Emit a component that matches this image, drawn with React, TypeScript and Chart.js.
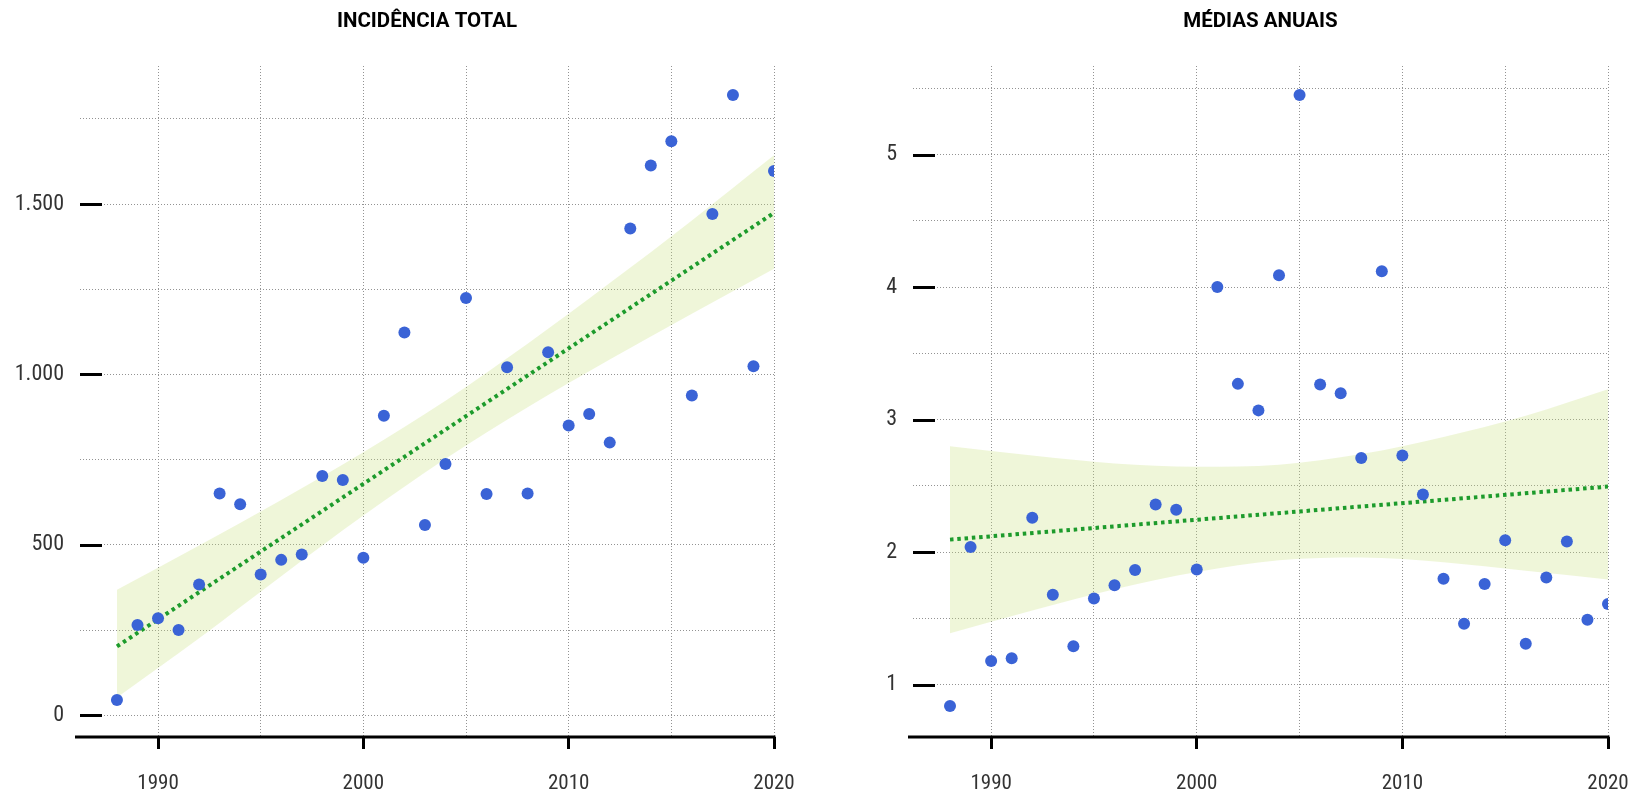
import React, { useEffect, useRef } from 'react';
import { Chart, registerables } from 'chart.js';

Chart.register(...registerables);

// ---------------- data ----------------
const years = [
  1988, 1989, 1990, 1991, 1992, 1993, 1994, 1995, 1996, 1997, 1998,
  1999, 2000, 2001, 2002, 2003, 2004, 2005, 2006, 2007, 2008, 2009,
  2010, 2011, 2012, 2013, 2014, 2015, 2016, 2017, 2018, 2019, 2020,
];

const totalIncidence = [
  45, 265, 285, 250, 384, 651, 619, 413, 456, 472, 702,
  690, 462, 879, 1123, 558, 737, 1224, 649, 1021, 651, 1065,
  850, 884, 800, 1428, 1613, 1684, 938, 1471, 1820, 1024, 1597,
];

const annualMeans = [
  0.84, 2.04, 1.18, 1.2, 2.26, 1.68, 1.29, 1.65, 1.75, 1.865, 2.36,
  2.32, 1.87, 4.0, 3.27, 3.07, 4.09, 5.45, 3.265, 3.2, 2.71, 4.12,
  2.73, 2.436, 1.8, 1.46, 1.76, 2.09, 1.31, 1.81, 2.08, 1.49, 1.61,
];

const trendYears = [1988, 2020];
const totalTrend = [202, 1474];
const meansTrend = [2.095, 2.495];

const bandYears = [1988, 1992, 1996, 2000, 2004, 2008, 2012, 2016, 2020];
const totalBandUpper = [368, 498, 632, 772, 923, 1090, 1268, 1452, 1643];
const totalBandLower = [52, 226, 408, 586, 753, 904, 1044, 1178, 1310];
const meansBandUpper = [2.8, 2.73, 2.67, 2.645, 2.66, 2.74, 2.87, 3.03, 3.23];
const meansBandLower = [1.388, 1.56, 1.72, 1.85, 1.94, 1.96, 1.925, 1.86, 1.795];

const yearGridValues = [1990, 1995, 2000, 2005, 2010, 2015, 2020];
const yearTickValues = [1990, 2000, 2010, 2020];
const yearTickLabels = ['1990', '2000', '2010', '2020'];
const totalGridValues = [0, 250, 500, 750, 1000, 1250, 1500, 1750];
const totalTickValues = [0, 500, 1000, 1500];
const totalTickLabels = ['0', '500', '1.000', '1.500'];
const meansGridValues = [1, 1.5, 2, 2.5, 3, 3.5, 4, 4.5, 5, 5.5];
const meansTickValues = [1, 2, 3, 4, 5];
const meansTickLabels = ['1', '2', '3', '4', '5'];

// ---------------- style ----------------
const FONT = '"Roboto Condensed", "Liberation Sans Narrow", "DejaVu Sans Condensed", "DejaVu Sans", sans-serif';
const TITLE_FONT = 'Roboto, "Liberation Sans", "DejaVu Sans", sans-serif';
const POINT_COLOR = '#3a63d6';
const TREND_COLOR = '#1d9b2c';
const BAND_COLOR = 'rgba(196, 222, 120, 0.28)';
const GRID_COLOR = '#939393';

const lookup = (values: number[], labels: string[], v: number) => {
  const i = values.findIndex((t) => Math.abs(t - v) < 1e-6);
  return i >= 0 ? labels[i] : '';
};

const toXY = (xs: number[], ys: number[]) => xs.map((x, i) => ({ x, y: ys[i] }));

const decorPlugin = (majorY: number[]) => ({
  id: 'axisDecor',
  afterDatasetsDraw(chart: any) {
    const { ctx, chartArea, scales } = chart;
    ctx.save();
    ctx.strokeStyle = '#000';
    ctx.lineWidth = 3;
    ctx.lineCap = 'butt';
    ctx.setLineDash([]);
    ctx.beginPath();
    ctx.moveTo(chartArea.left - 5, chartArea.bottom);
    ctx.lineTo(chartArea.right + 1.5, chartArea.bottom);
    ctx.stroke();
    for (const v of majorY) {
      const py = Math.round(scales.y.getPixelForValue(v)) + 0.5;
      ctx.beginPath();
      ctx.moveTo(chartArea.left, py);
      ctx.lineTo(chartArea.left + 22, py);
      ctx.stroke();
    }
    ctx.restore();
  },
});

interface PanelProps {
  title: string;
  values: number[];
  trend: number[];
  upper: number[];
  lower: number[];
  yMin: number;
  yMax: number;
  yGrid: number[];
  yTicks: number[];
  yLabels: string[];
  yAxisWidth: number;
  rightPad: number;
  width: number;
  left: number;
}

function Panel(p: PanelProps) {
  const ref = useRef<HTMLCanvasElement | null>(null);
  useEffect(() => {
    if (!ref.current) return;
    const chart = new Chart(ref.current, {
      type: 'line',
      data: {
        datasets: [
          {
            label: 'pontos',
            data: toXY(years, p.values),
            showLine: false,
            pointRadius: 6,
            pointHoverRadius: 6,
            pointBackgroundColor: POINT_COLOR,
            pointBorderWidth: 0,
            borderColor: POINT_COLOR,
            order: 0,
          },
          {
            label: 'tendência',
            data: toXY(trendYears, p.trend),
            borderColor: TREND_COLOR,
            borderWidth: 4,
            borderDash: [3.5, 3.8],
            borderCapStyle: 'butt',
            pointRadius: 0,
            fill: false,
            order: 1,
          },
          {
            label: 'sup',
            data: toXY(bandYears, p.upper),
            borderWidth: 0,
            borderColor: 'rgba(0,0,0,0)',
            backgroundColor: BAND_COLOR,
            pointRadius: 0,
            cubicInterpolationMode: 'monotone',
            fill: '+1',
            order: 2,
          },
          {
            label: 'inf',
            data: toXY(bandYears, p.lower),
            borderWidth: 0,
            borderColor: 'rgba(0,0,0,0)',
            pointRadius: 0,
            cubicInterpolationMode: 'monotone',
            fill: false,
            order: 3,
          },
        ] as any,
      },
      options: {
        animation: false,
        responsive: false,
        events: [],
        layout: { padding: { left: 0, right: p.rightPad, top: 0, bottom: 0 } },
        plugins: {
          legend: { display: false },
          tooltip: { enabled: false },
          title: {
            display: true,
            text: p.title,
            fullSize: false,
            color: '#000',
            font: { family: TITLE_FONT, size: 20.5, weight: 'bold', lineHeight: 1.2 },
            padding: { top: 10, bottom: 31.4 },
          },
        },
        scales: {
          x: {
            type: 'linear',
            min: 1986.2,
            max: 2020,
            afterBuildTicks: (s: any) => {
              s.ticks = yearGridValues.map((value) => ({ value }));
            },
            afterFit: (s: any) => {
              s.height = 61;
              s.paddingLeft = 0;
              s.paddingRight = 0;
            },
            border: { display: false, dash: [1, 2] },
            grid: {
              color: GRID_COLOR,
              lineWidth: 1,
              drawTicks: true,
              tickLength: 12,
              tickWidth: 3,
              tickBorderDash: [],
              tickColor: (c: any) =>
                c.tick && yearTickValues.some((t) => Math.abs(t - c.tick.value) < 1e-6)
                  ? '#000'
                  : 'rgba(0,0,0,0)',
            },
            ticks: {
              autoSkip: false,
              maxRotation: 0,
              padding: 22,
              color: '#333',
              font: { family: FONT, size: 21 },
              callback: (v: any) => lookup(yearTickValues, yearTickLabels, Number(v)),
            },
          },
          y: {
            type: 'linear',
            min: p.yMin,
            max: p.yMax,
            afterBuildTicks: (s: any) => {
              s.ticks = p.yGrid.map((value) => ({ value }));
            },
            afterFit: (s: any) => {
              s.width = p.yAxisWidth;
              s.paddingTop = 0;
              s.paddingBottom = 0;
            },
            border: { display: false, dash: [1, 2] },
            grid: {
              color: GRID_COLOR,
              lineWidth: 1,
              drawTicks: false,
            },
            ticks: {
              autoSkip: false,
              padding: 16,
              color: '#333',
              font: { family: FONT, size: 22 },
              callback: (v: any) => lookup(p.yTicks, p.yLabels, Number(v)),
            },
          },
        },
      } as any,
      plugins: [decorPlugin(p.yTicks)],
    });
    return () => chart.destroy();
  }, []);
  return (
    <div style={{ position: 'absolute', left: p.left, top: 0, width: p.width, height: 798 }}>
      <canvas ref={ref} width={p.width} height={798} style={{ display: 'block' }} />
    </div>
  );
}

export default function App() {
  return (
    <div
      style={{
        position: 'fixed',
        left: 0,
        top: 0,
        width: 1645,
        height: 798,
        background: '#fff',
        overflow: 'hidden',
      }}
    >
      <Panel
        title="INCIDÊNCIA TOTAL"
        values={totalIncidence}
        trend={totalTrend}
        upper={totalBandUpper}
        lower={totalBandLower}
        yMin={-63.7}
        yMax={1905}
        yGrid={totalGridValues}
        yTicks={totalTickValues}
        yLabels={totalTickLabels}
        yAxisWidth={80}
        rightPad={48}
        width={822}
        left={0}
      />
      <Panel
        title="MÉDIAS ANUAIS"
        values={annualMeans}
        trend={meansTrend}
        upper={meansBandUpper}
        lower={meansBandLower}
        yMin={0.606}
        yMax={5.668}
        yGrid={meansGridValues}
        yTicks={meansTickValues}
        yLabels={meansTickLabels}
        yAxisWidth={91}
        rightPad={37}
        width={823}
        left={822}
      />
    </div>
  );
}
